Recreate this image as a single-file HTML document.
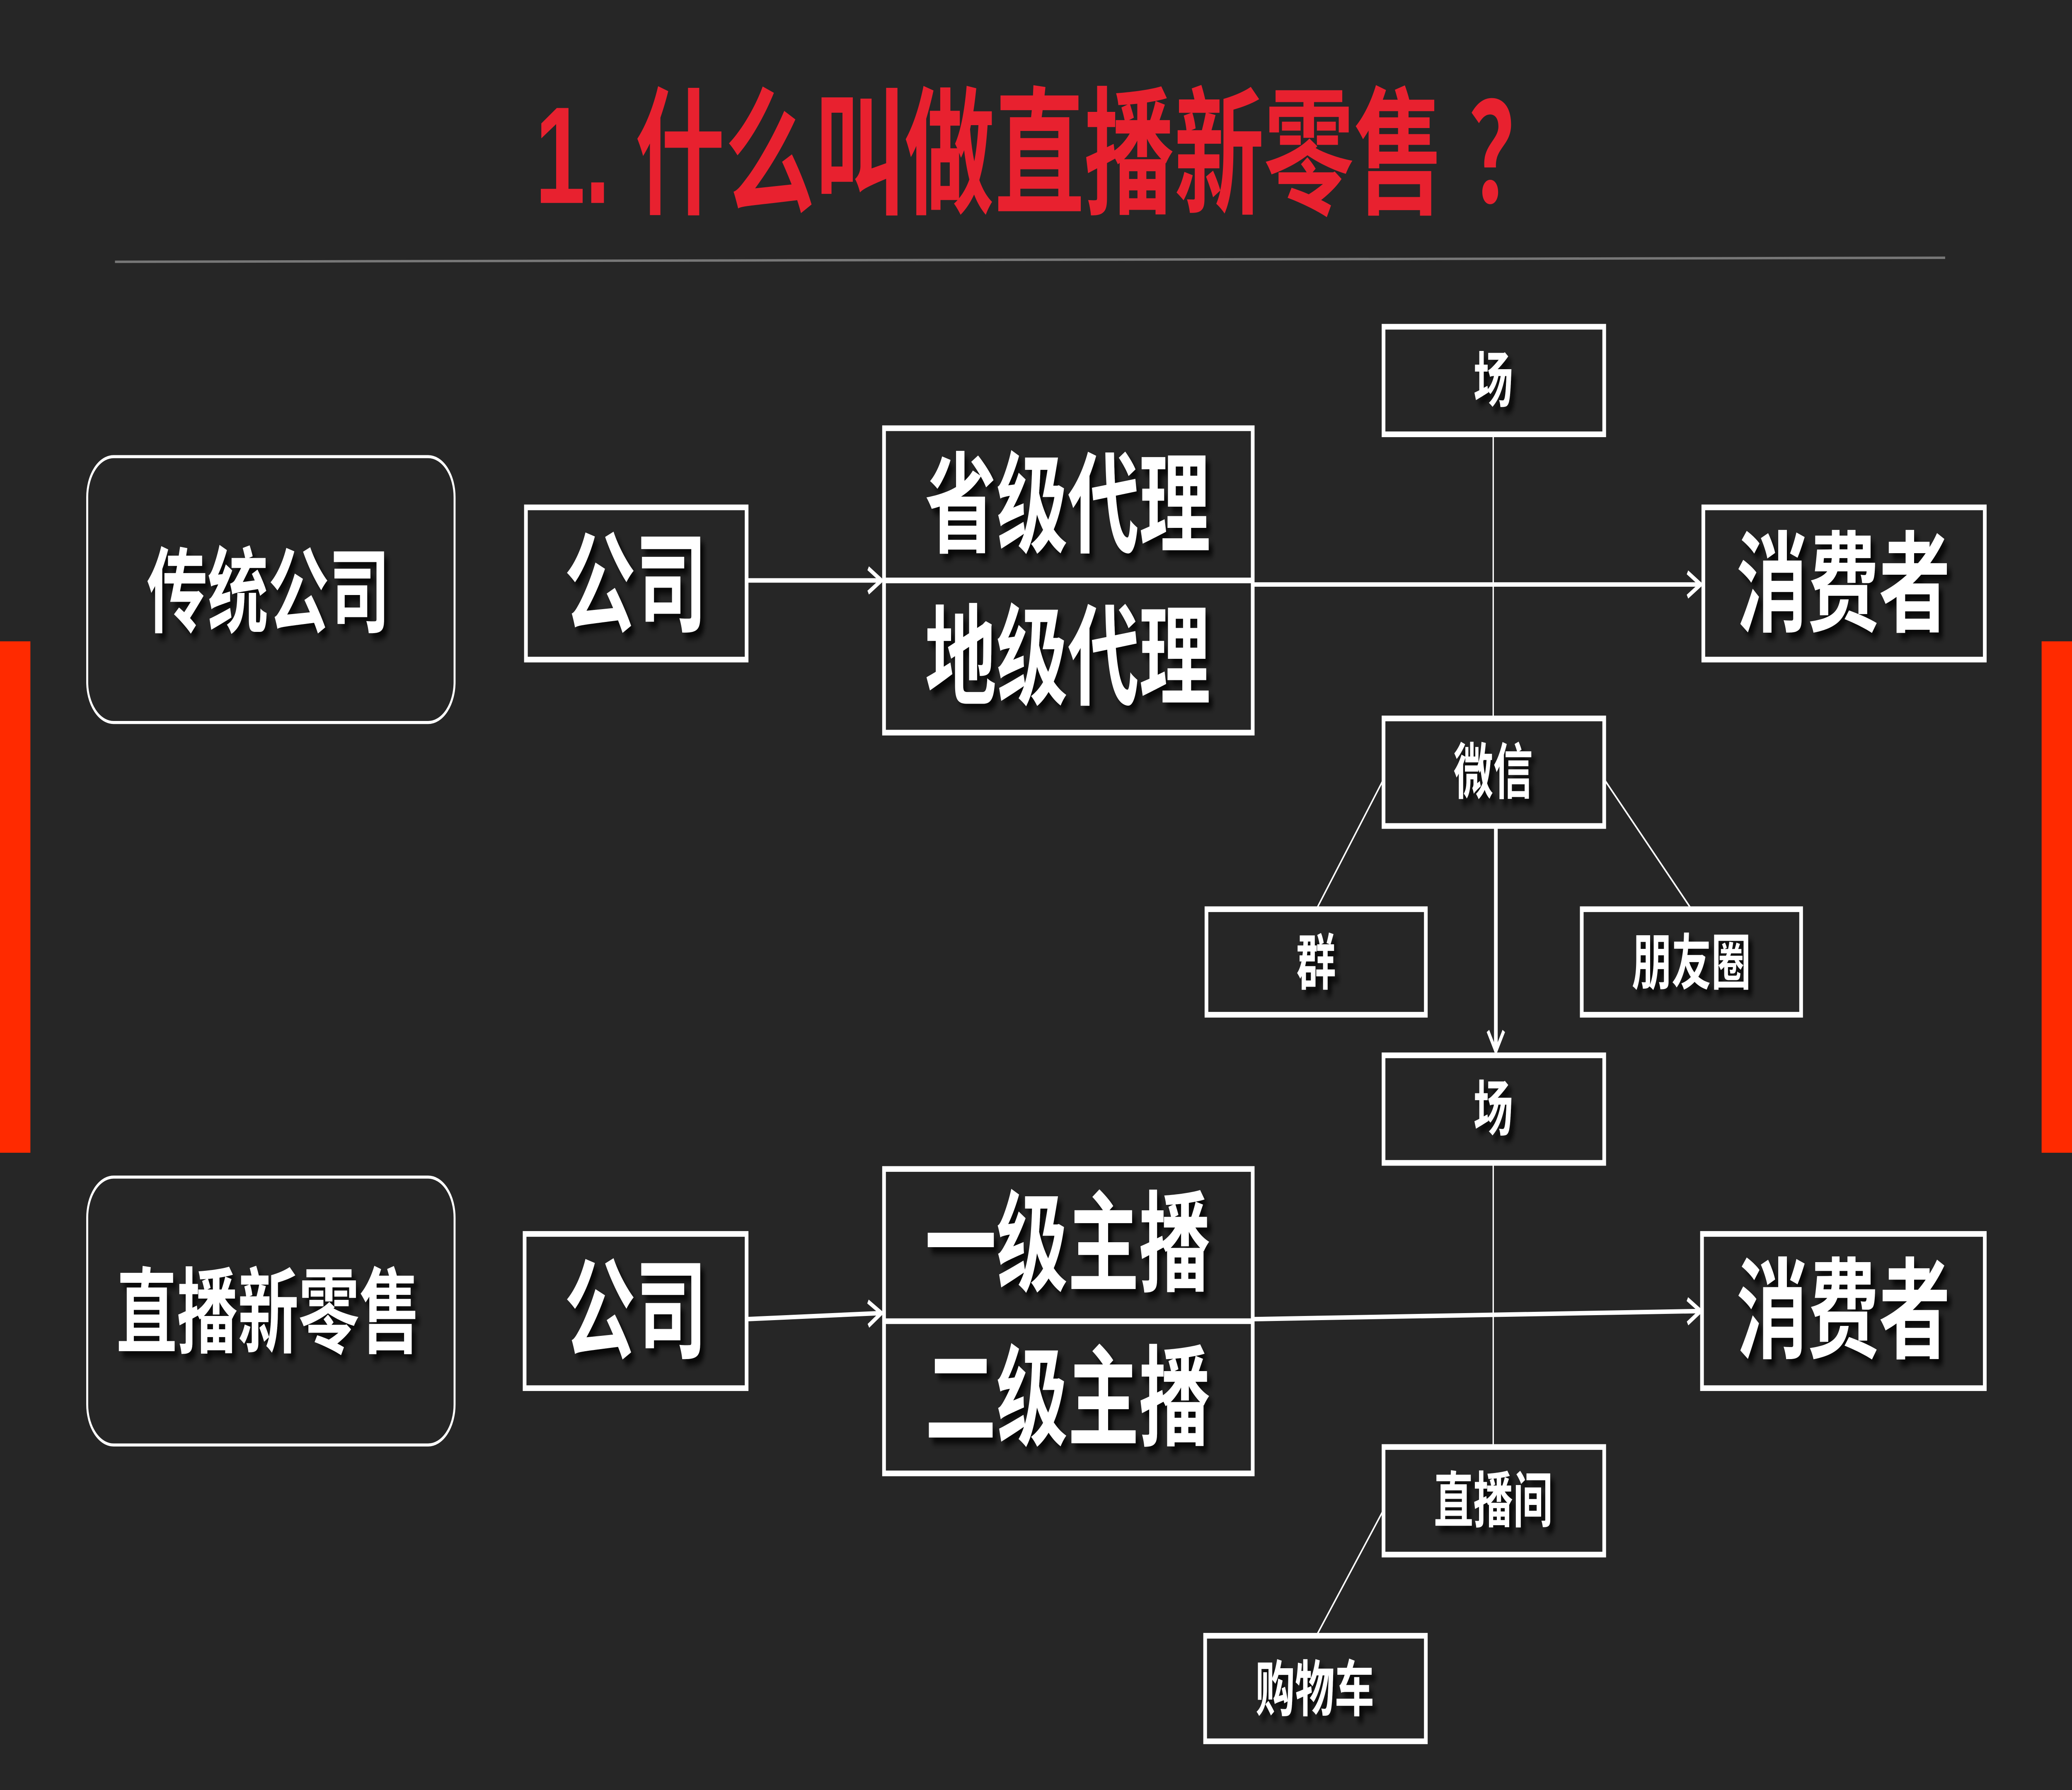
<!DOCTYPE html>
<html><head><meta charset="utf-8"><style>
html,body{margin:0;padding:0;background:#262626;width:100%;height:100%;overflow:hidden;}
svg{display:block;width:100vw;height:100vh;}
text{font-family:"Liberation Sans","Noto Sans CJK SC",sans-serif;font-weight:bold;text-anchor:middle;}
</style></head><body>
<svg viewBox="0 0 1568 882" preserveAspectRatio="none" xmlns="http://www.w3.org/2000/svg">
<defs>
<marker id="ah" markerWidth="14" markerHeight="14" refX="12" refY="7" orient="auto" markerUnits="userSpaceOnUse">
<path d="M2,1 L12,7 L2,13" fill="none" stroke="#fff" stroke-width="2.2"/>
</marker>
<filter id="sh" x="-10%" y="-10%" width="130%" height="140%">
<feDropShadow dx="3" dy="3" stdDeviation="1.5" flood-color="#000" flood-opacity="0.8"/>
</filter>
</defs>
<rect width="1568" height="882" fill="#262626"/>
<rect x="0" y="316" width="23" height="252" fill="#ff2a00"/>
<rect x="1545" y="316" width="23" height="252" fill="#ff2a00"/>
<text x="405" y="100" font-size="68" fill="#e8212f" style="text-anchor:start">1. 什么叫做直播新零售 ？</text>
<line x1="87" y1="129" x2="1472" y2="127" stroke="#777" stroke-width="1.2"/>

<g fill="none" stroke="#fff">
<rect x="66" y="225" width="278" height="131" rx="20" stroke-width="1.5"/>
<rect x="66" y="580" width="278" height="132" rx="20" stroke-width="1.5"/>
<g stroke-width="2.8">
<rect x="398" y="250" width="167" height="75"/>
<rect x="669" y="211" width="279" height="150"/>
<line x1="669" y1="286" x2="948" y2="286"/>
<rect x="1047" y="161" width="167" height="53"/>
<rect x="1289" y="250" width="213" height="75"/>
<rect x="1047" y="354" width="167" height="53"/>
<rect x="913" y="448" width="166" height="52"/>
<rect x="1197" y="448" width="166" height="52"/>
<rect x="1047" y="520" width="167" height="53"/>
<rect x="397" y="608" width="168" height="76"/>
<rect x="669" y="576" width="279" height="150"/>
<line x1="669" y1="651" x2="948" y2="651"/>
<rect x="1288" y="608" width="214" height="76"/>
<rect x="1047" y="713" width="167" height="53"/>
<rect x="912" y="806" width="167" height="52"/>
</g>
<g stroke-width="2.2">
<line x1="565" y1="286" x2="667" y2="286" marker-end="url(#ah)"/>
<line x1="948" y1="288" x2="1287" y2="288" marker-end="url(#ah)"/>
<line x1="1132" y1="407" x2="1132" y2="518" marker-end="url(#ah)" stroke-width="2.8"/>
<line x1="565" y1="650" x2="667" y2="647" marker-end="url(#ah)"/>
<line x1="948" y1="650" x2="1287" y2="646" marker-end="url(#ah)"/>
</g>
<g stroke-width="1">
<line x1="1130" y1="214" x2="1130" y2="354"/>
<line x1="1130" y1="573" x2="1130" y2="713"/>
<line x1="1047" y1="384" x2="997" y2="447"/>
<line x1="1214" y1="384" x2="1279" y2="447"/>
<line x1="1047" y1="744" x2="997" y2="805"/>
</g>
</g>

<g fill="#fff" filter="url(#sh)">
<text x="203" y="308" font-size="46">传统公司</text>
<text x="203" y="663" font-size="46">直播新零售</text>
<text x="481" y="307" font-size="54">公司</text>
<text x="481" y="665" font-size="54">公司</text>
<text x="808" y="268" font-size="54">省级代理</text>
<text x="808" y="343" font-size="54">地级代理</text>
<text x="808" y="632" font-size="54">一级主播</text>
<text x="808" y="708" font-size="54">二级主播</text>
<text x="1395" y="307" font-size="54">消费者</text>
<text x="1395" y="665" font-size="54">消费者</text>
<text x="1130" y="198" font-size="30">场</text>
<text x="1130" y="391" font-size="30">微信</text>
<text x="996" y="485" font-size="30">群</text>
<text x="1280" y="485" font-size="30">朋友圈</text>
<text x="1130" y="557" font-size="30">场</text>
<text x="1130" y="750" font-size="30">直播间</text>
<text x="995" y="843" font-size="30">购物车</text>
</g>
</svg>
</body></html>
